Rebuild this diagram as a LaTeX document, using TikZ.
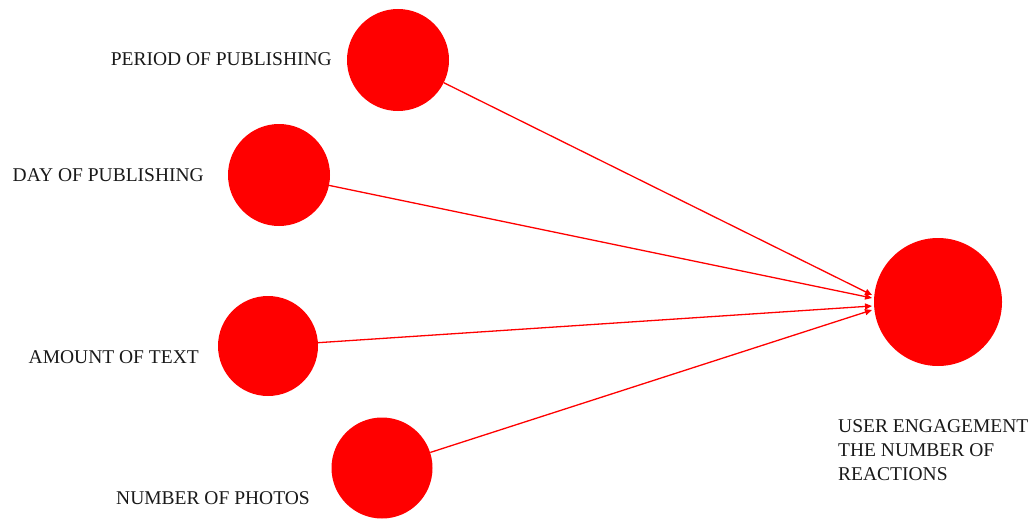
\documentclass[tikz,border=0pt]{standalone}
\usepackage{fontspec}
\setmainfont{Liberation Serif}
\usetikzlibrary{arrows.meta}
\begin{document}
\begin{tikzpicture}[x=1pt,y=-1pt,
  dot/.style={circle,fill=red,draw=none,inner sep=0pt,minimum size=#1},
  lbl/.style={font=\fontsize{19.5}{24}\selectfont,inner sep=0pt,text=black!90},
  link/.style={draw=red,line width=1.3pt,-{Triangle[length=7pt,width=6pt]}}]
\useasboundingbox (0,0) rectangle (1033,519);
\node[dot=102pt] (p) at (398,60) {};
\node[dot=102pt] (d) at (279,175) {};
\node[dot=100pt] (a) at (268,346) {};
\node[dot=101pt] (n) at (382,468) {};
\node[dot=128pt] (u) at (938,302) {};
\coordinate (e1) at (872,295);
\coordinate (e2) at (872,298);
\coordinate (e3) at (872,306);
\coordinate (e4) at (872,310);
\node[lbl,anchor=east] (pl) at (332,59) {PERIOD OF PUBLISHING};
\node[lbl,anchor=east] (dl) at (204,175) {DAY OF PUBLISHING};
\node[lbl,anchor=east] (al) at (199,357) {AMOUNT OF TEXT};
\node[lbl,anchor=east] (nl) at (310,498) {NUMBER OF PHOTOS};
\node[lbl,anchor=north west,align=left] (ul) at (838,419) {USER ENGAGEMENT\\THE NUMBER OF\\REACTIONS};
\draw[link] (p) -- (e1);
\draw[link] (d) -- (e2);
\draw[link] (a) -- (e3);
\draw[link] (n) -- (e4);
\end{tikzpicture}
\end{document}
